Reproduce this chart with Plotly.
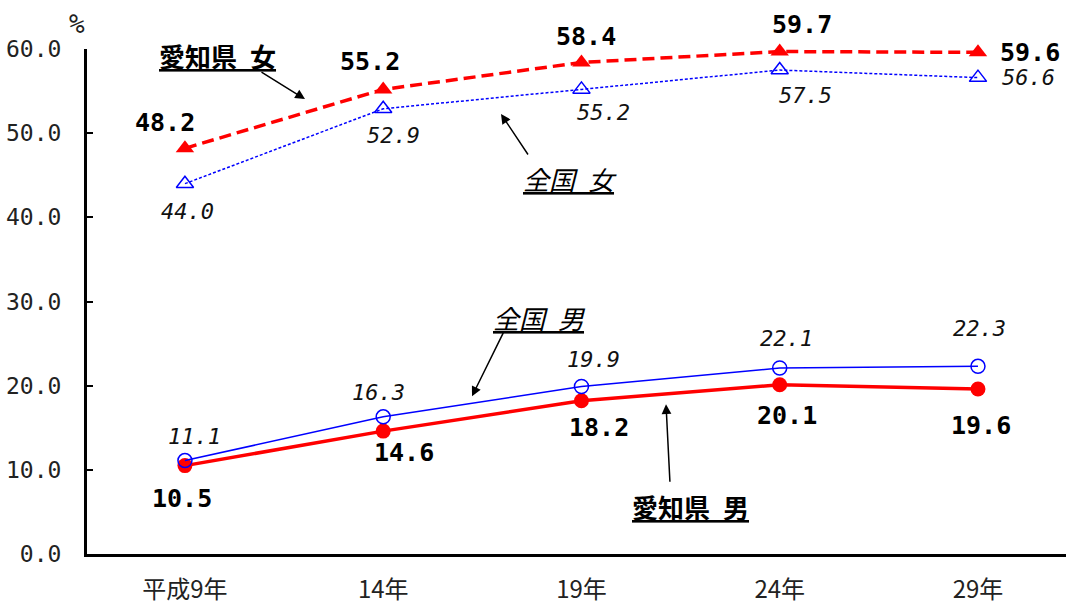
import plotly.graph_objects as go

# ---------------- data ----------------
categories = ["平成9年", "14年", "19年", "24年", "29年"]
aichi_female = [48.2, 55.2, 58.4, 59.7, 59.6]
national_female = [44.0, 52.9, 55.2, 57.5, 56.6]
national_male = [11.1, 16.3, 19.9, 22.1, 22.3]
aichi_male = [10.5, 14.6, 18.2, 20.1, 19.6]
y_ticks = [0, 10, 20, 30, 40, 50, 60]

# label offsets (pixels, screen: dx right, dy down)
off_aichi_female = [(-20, -26), (-13, -28), (5, -26), (22, -27), (52, 0)]
off_national_female = [(3, 28), (10, 27), (22, 23), (26, 25), (51, 0)]
off_national_male = [(10, -24), (-5, -24), (12, -27), (7, -29), (2, -38)]
off_aichi_male = [(-3, 33), (21, 21), (18, 27), (7, 31), (3, 36)]

RED = "#ff0000"
BLUE = "#0000ff"
MONO = "DejaVu Sans Mono"
CJK = "Noto Sans CJK JP"

fig = go.Figure()

fig.add_trace(go.Scatter(
    x=categories, y=aichi_female, mode="lines+markers",
    line=dict(color=RED, width=3.5, dash="12px,6px"),
    marker=dict(symbol="triangle-up", size=16, color=RED),
    showlegend=False, cliponaxis=False))
fig.add_trace(go.Scatter(
    x=categories, y=national_female, mode="lines+markers",
    line=dict(color=BLUE, width=1.5, dash="3px,2px"),
    marker=dict(symbol="triangle-up-open", size=15, color=BLUE, line=dict(width=1.5, color=BLUE)),
    showlegend=False, cliponaxis=False))
fig.add_trace(go.Scatter(
    x=categories, y=aichi_male, mode="lines+markers",
    line=dict(color=RED, width=3.5),
    marker=dict(symbol="circle", size=15, color=RED),
    showlegend=False, cliponaxis=False))
fig.add_trace(go.Scatter(
    x=categories, y=national_male, mode="lines+markers",
    line=dict(color=BLUE, width=1.5),
    marker=dict(symbol="circle-open", size=14, color=BLUE, line=dict(width=1.5, color=BLUE)),
    showlegend=False, cliponaxis=False))

annotations = []

def add_labels(values, offsets, bold):
    for c, v, (dx, dy) in zip(categories, values, offsets):
        if bold:
            txt = f"<b>{v:.1f}</b>"
            font = dict(family=MONO, size=25, color="#000000")
        else:
            txt = f"<i>{v:.1f}</i>"
            font = dict(family=MONO, size=22, color="#111111")
        annotations.append(dict(x=c, y=v, xref="x", yref="y", text=txt, showarrow=False,
                                xshift=dx, yshift=-dy, font=font,
                                xanchor="center", yanchor="middle"))

add_labels(aichi_female, off_aichi_female, True)
add_labels(national_female, off_national_female, False)
add_labels(national_male, off_national_male, False)
add_labels(aichi_male, off_aichi_male, True)

# plot area in pixels
L, R, T, B = 87, 1066, 49.4, 559.2
def px(x):
    return (x - L) / (R - L)
def py(y):
    return (B - y) / (B - T)

# series name labels
name_labels = [
    ("<b><u>愛知県\u2002女</u></b>", 217, 56),
    ("<i><u>全国\u2002女</u></i>", 570, 180),
    ("<i><u>全国\u2002男</u></i>", 539, 320),
    ("<b><u>愛知県\u2002男</u></b>", 690, 511),
]
for t, x, y in name_labels:
    annotations.append(dict(x=px(x), y=py(y), xref="paper", yref="paper", text=t,
                            showarrow=False, xanchor="center", yanchor="middle",
                            font=dict(family=CJK, size=26, color="#000000")))

# arrows: (tail_x, tail_y, head_x, head_y) in pixels
arrows = [
    (260, 72, 305, 100),
    (529, 157, 501, 115),
    (504, 335, 472, 400),
    (670, 487, 666, 408),
]
for tx, ty, hx, hy in arrows:
    annotations.append(dict(x=px(hx), y=py(hy), xref="paper", yref="paper", text="",
                            showarrow=True, ax=tx - hx, ay=ty - hy,
                            arrowhead=2, arrowsize=1.3, arrowwidth=1.5, arrowcolor="#000000"))

# percent sign
annotations.append(dict(x=px(77), y=py(24), xref="paper", yref="paper", text="%",
                        showarrow=False, xanchor="center", yanchor="middle",
                        font=dict(family=MONO, size=26, color="#222222")))

fig.update_layout(
    width=1066, height=605,
    margin=dict(l=87, r=0, t=49, b=46),
    paper_bgcolor="white", plot_bgcolor="white",
    annotations=annotations,
    xaxis=dict(type="category", range=[-0.494, 4.444], showgrid=False, zeroline=False,
               showline=True, linecolor="#000000", linewidth=3, ticks="",
               tickfont=dict(family=CJK, size=24, color="#222222"),
               ticklabelstandoff=12),
    yaxis=dict(range=[0, 60], tickvals=y_ticks, tickformat=".1f", showgrid=False,
               zeroline=False, showline=True, linecolor="#000000", linewidth=3,
               ticks="inside", ticklen=6, tickwidth=2, tickcolor="#000000",
               tickfont=dict(family=MONO, size=23, color="#222222"),
               ticklabelstandoff=18),
)

fig.write_html("out.html", config={"displayModeBar": False},
               post_script="document.body.style.margin='0';document.body.style.overflow='hidden';")
